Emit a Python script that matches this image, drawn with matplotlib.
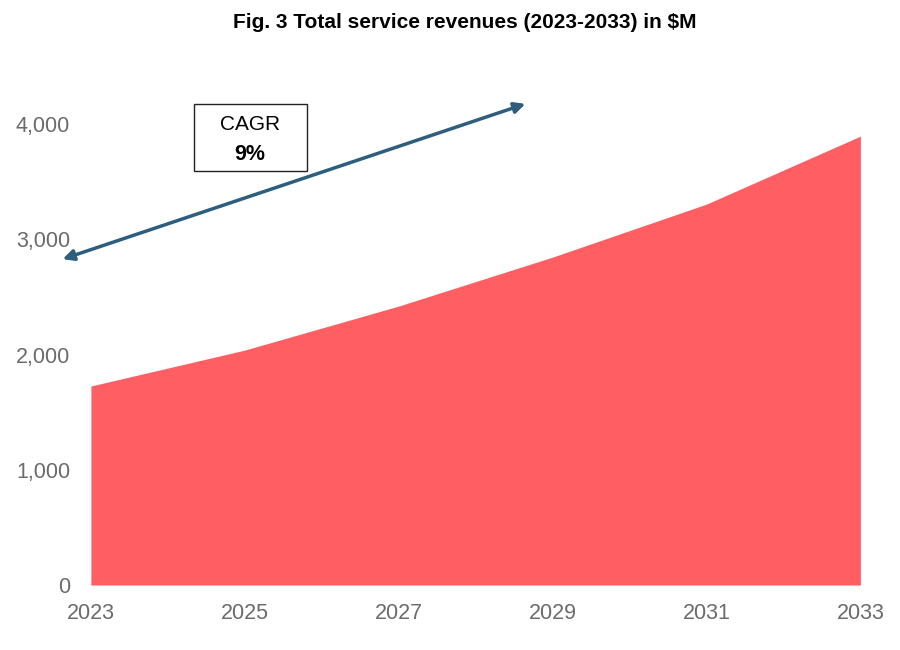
import matplotlib
matplotlib.use("Agg")
import matplotlib.pyplot as plt

years = [2023, 2025, 2027, 2029, 2031, 2033]
revenues = [1727, 2039, 2421, 2846, 3306, 3896]
yticks = [0, 1000, 2000, 3000, 4000]
ytick_labels = ["0", "1,000", "2,000", "3,000", "4,000"]
title = "Fig. 3 Total service revenues (2023-2033) in $M"
cagr_label = "CAGR"
cagr_value = "9%"

plt.rcParams['font.family'] = ['Liberation Sans', 'DejaVu Sans']

fig = plt.figure(figsize=(9, 6.5), dpi=100)
ax = fig.add_axes([0.101, 0.1, 0.855, 0.7976])
ax.fill_between(years, revenues, 0, color='#FF5F62', linewidth=0)
ax.axhline(0, color='#dddddd', linewidth=1.5, zorder=0)
ax.set_xlim(2023, 2033)
ax.set_ylim(0, 4500)
ax.set_xticks(years)
ax.set_xticklabels([str(y) for y in years])
ax.set_yticks(yticks)
ax.set_yticklabels(ytick_labels)
for s in ax.spines.values():
    s.set_visible(False)
ax.tick_params(length=0, labelsize=15.5, colors='#6b6b6b', pad=13)
ax.tick_params(axis='y', pad=15)

fig.text(465/900, 1 - 22/650, title, ha='center', va='center', fontsize=15, fontweight='bold')

fig.patches.append(matplotlib.patches.FancyArrowPatch(
    (60/900, 1 - 260/650), (528/900, 1 - 103/650), transform=fig.transFigure,
    arrowstyle='<|-|>', mutation_scale=16, color='#2E5E7E', linewidth=2.5))

fig.patches.append(matplotlib.patches.Rectangle(
    (194/900, 1 - 171/650), 113/900, 67/650, transform=fig.transFigure,
    facecolor='white', edgecolor='#222222', linewidth=1, zorder=3))
fig.text(250/900, 1 - 124/650, cagr_label, ha='center', va='center', fontsize=15, zorder=4)
fig.text(250/900, 1 - 154/650, cagr_value, ha='center', va='center', fontsize=15.5, fontweight='bold', zorder=4)

fig.savefig("out.png", dpi=100)
